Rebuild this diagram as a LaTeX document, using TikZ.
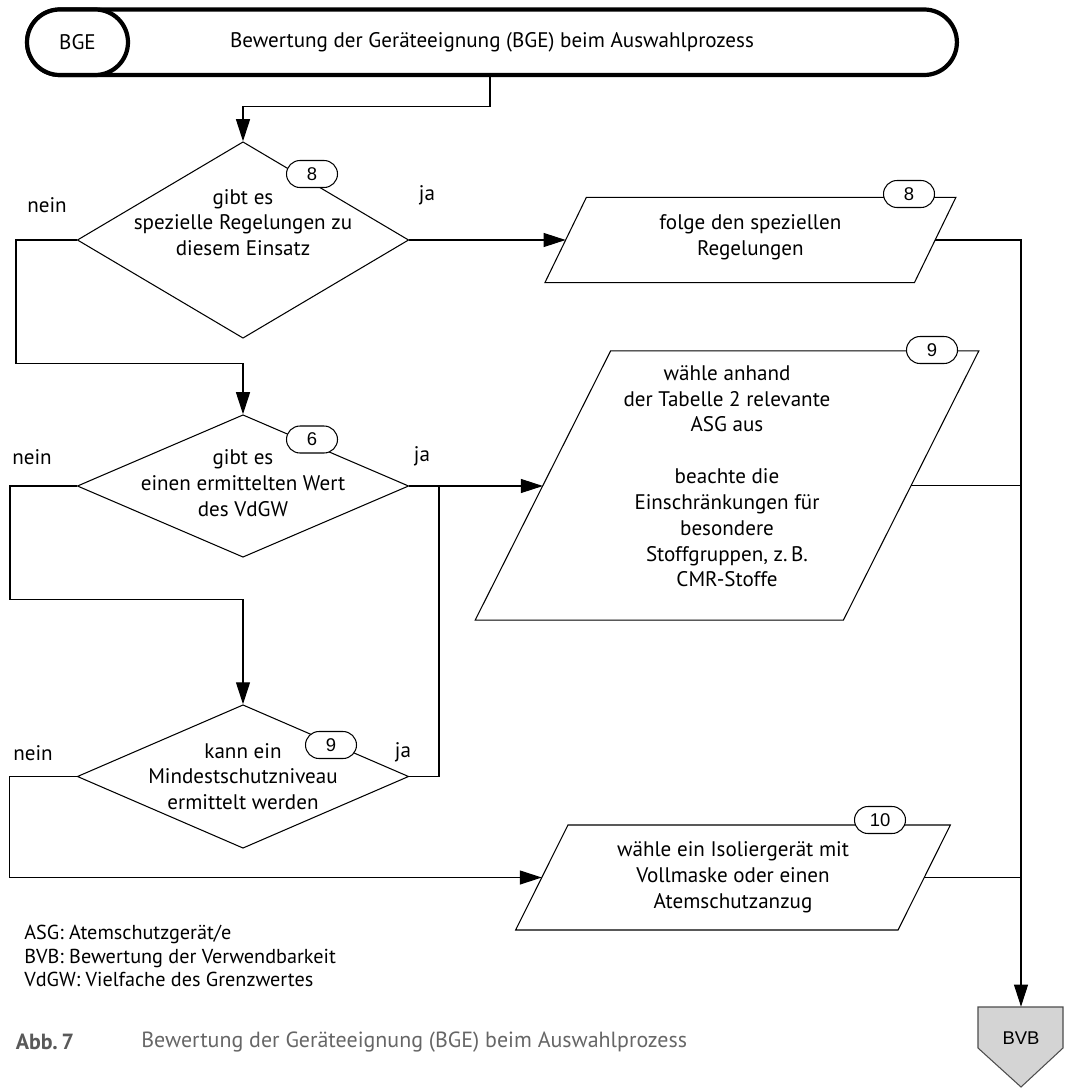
\documentclass[tikz,border=0pt]{standalone}
\usepackage{fontspec}
\setmainfont{PT Sans}
\newfontfamily\numfont{Liberation Sans}
\usetikzlibrary{shapes.geometric,shapes.misc,arrows.meta}
\newcommand{\bodysize}{\fontsize{12pt}{14.7pt}\selectfont}
\tikzset{
  conn/.style={line width=0.6pt},
  flow/.style={conn, -{Triangle[length=0.44cm,width=0.28cm]}},
  capsule/.style={rounded rectangle, draw, fill=white, line width=2.4pt,
    minimum height=1.31cm, inner sep=0pt, font=\bodysize},
  decision/.style={diamond, draw, line width=0.6pt, inner sep=0pt,
    minimum width=6.63cm},
  ioline/.style={draw, line width=0.6pt},
  qtext/.style={align=center, inner sep=0pt, font=\bodysize},
  lbl/.style={inner sep=0pt, font=\bodysize},
  badge/.style={rounded rectangle, draw, fill=white, line width=0.6pt,
    minimum width=1.02cm, minimum height=0.54cm, inner sep=0pt,
    font=\numfont\fontsize{10.5pt}{12pt}\selectfont},
  endfill/.style={draw=black!70, fill=black!17, line width=0.6pt},
  endbox/.style={inner sep=0pt, minimum width=1.7cm, minimum height=1.24cm,
    font=\numfont\fontsize{10.5pt}{12pt}\selectfont}
}
% parallelogram: name, cx, cy, half body width, half height, half slant
\newcommand{\iobox}[6]{
  \draw[ioline] ({#2-#4+#6},{#3-#5}) -- ({#2+#4+#6},{#3-#5})
    -- ({#2+#4-#6},{#3+#5}) -- ({#2-#4-#6},{#3+#5}) -- cycle;
  \coordinate (#1l) at ({#2-#4},#3);
  \coordinate (#1r) at ({#2+#4},#3);}
\newcommand{\badge}[4]{\node[badge] (#1) at (#2,#3) {#4};}

\begin{document}
\begin{tikzpicture}[x=0.02cm, y=-0.02cm]
    \useasboundingbox (0,0) rectangle (1069,1088);
    % title
    \node[capsule, minimum width=18.6cm] (cap) at (492,42.25)
      {Bewertung der Geräteeignung (BGE) beim Auswahlprozess};
    \node[capsule, minimum width=2.02cm] (bge) at (77.5,42.25) {BGE};
    % questions
    \node[decision, minimum height=3.93cm] (q1) at (243,240) {};
    \node[qtext] (q1t) at (243,222.5) {gibt es\\spezielle Regelungen zu\\diesem Einsatz};
    \node[decision, minimum height=2.85cm] (q2) at (243,486) {};
    \node[qtext] (q2t) at (243,483.3) {gibt es\\einen ermittelten Wert\\des VdGW};
    \node[decision, minimum height=2.87cm] (q3) at (243,776.5) {};
    \node[qtext] (q3t) at (243,776.5) {kann ein\\Mindestschutzniveau\\ermittelt werden};
    % actions
    \iobox{p1}{750.4}{240}{184.75}{42.7}{20.75}
    \node[qtext] (p1t) at (750.4,237.3) {folge den speziellen\\Regelungen};
    \iobox{p2}{727}{485.5}{184.1}{134.65}{67.75}
    \node[qtext] (p2t) at (727,476.3)
      {wähle anhand\\der Tabelle 2 relevante\\ASG aus\\[14.7pt]beachte die\\Einschränkungen für\\besondere\\Stoffgruppen, z.\,B.\\CMR-Stoffe};
    \iobox{p3}{733}{877.5}{191.2}{52.5}{26.15}
    \node[qtext] (p3t) at (733,877.3)
      {wähle ein Isoliergerät mit\\Vollmaske oder einen\\Atemschutzanzug};
    % end
    \draw[endfill] (978,1007) -- (1063,1007) -- (1063,1048) -- (1021,1087)
      -- (978,1048) -- cycle;
    \node[endbox] (bvb) at (1021,1038) {BVB};
    % junctions
    \coordinate (j0) at (243,106.7);
    \coordinate (n1) at (16,363.3);
    \coordinate (n2) at (10,599.3);
    \coordinate (n3) at (9.6,877.5);
    \coordinate (j2) at (439,486);
    % connectors
    \draw[flow] (cap.south -| 490,0) |- (j0) -- (q1.north);
    \draw[flow] (q1.east) -- (p1l);
    \draw[flow] (q1.west) -| (n1) -| (q2.north);
    \draw[flow] (q2.east) -- (q2.east -| p2l);
    \draw[flow] (q2.west) -| (n2) -| (q3.north);
    \draw[conn] (q3.east) -| (j2);
    \draw[flow] (q3.west) -| (n3) -- (p3l);
    \draw[flow] (p1r) -| (bvb.north);
    \draw[conn] (p2r) -- (p2r -| bvb.north);
    \draw[conn] (p3r) -- (p3r -| bvb.north);
    % ja / nein
    \node[lbl] (nein1) at (47,205) {nein};
    \node[lbl] (ja1) at (427,195) {ja};
    \node[lbl] (nein2) at (32,456.7) {nein};
    \node[lbl] (ja2) at (422,456) {ja};
    \node[lbl] (nein3) at (33,753) {nein};
    \node[lbl] (ja3) at (403,752) {ja};
    % badges
    \badge{b1}{312}{174}{8}
    \badge{b2}{909}{194}{8}
    \badge{b3}{932}{350}{9}
    \badge{b4}{312}{439.5}{6}
    \badge{b5}{331}{745}{9}
    \badge{b6}{880}{820}{10}
    % legend and caption
    \node[lbl, align=left, anchor=west, font=\fontsize{11.5pt}{13.6pt}\selectfont] (leg) at (24,956)
      {ASG: Atemschutzgerät/e\\BVB: Bewertung der Verwendbarkeit\\VdGW: Vielfache des Grenzwertes};
    \node[lbl, anchor=west, text=black!65, font=\fontsize{12.5pt}{14pt}\selectfont\bfseries] (abb) at (15.5,1041.7) {Abb.\,7};
    \node[lbl, anchor=west, text=black!60, font=\fontsize{12.5pt}{14pt}\selectfont] (capt) at (141,1041.7)
      {Bewertung der Geräteeignung (BGE) beim Auswahlprozess};
\end{tikzpicture}
\end{document}
